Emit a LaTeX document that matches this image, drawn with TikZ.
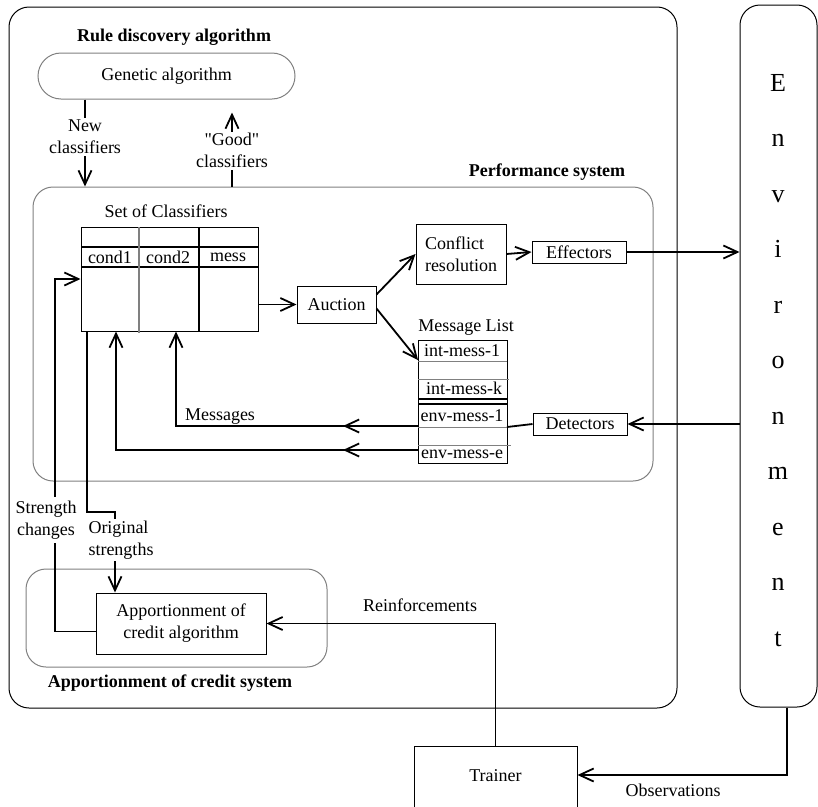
\documentclass[tikz,border=0pt]{standalone}
\usepackage{fontspec}
\setmainfont{Liberation Serif}[Ligatures=TeXOff]
\usetikzlibrary{positioning, arrows.meta, decorations.markings}

\tikzset{
  box/.style={draw, line width=1pt, inner sep=2pt},
  grpbox/.style={draw=gray, line width=1pt, rounded corners=20pt},
  conn/.style={line width=1.8pt, -{Straight Barb[length=14pt,width=13pt]}},
  plain/.style={line width=1.8pt},
  lbl/.style={fill=white, inner sep=2pt, align=center},
  hdr/.style={font=\fontsize{18}{22}\selectfont\bfseries},
  envch/.style={font=\fontsize{26}{30}\selectfont},
  midarrow/.style={postaction={decorate}, decoration={markings,
      mark=at position #1 with {\arrow{Straight Barb[length=14pt,width=13pt]}}}}
}

\begin{document}
\begin{tikzpicture}[x=1pt, y=-1pt, every node/.style={font=\fontsize{18}{22}\selectfont}]
    \useasboundingbox (0,0) rectangle (818,806);
    \clip (0,0) rectangle (818,806);

    % Outer system and environment
    \draw[line width=1pt, rounded corners=20pt] (9,7) rectangle (677,708);
    \node[draw, line width=1pt, rounded corners=20pt, minimum width=77pt, minimum height=702pt, inner sep=0] (env) at (778.5,356) {};
    \foreach \ch [count=\i from 0] in {E,n,v,i,r,o,n,m,e,n,t}
        \node[envch, anchor=base] (env\i) at (778,{91+55.5*\i}) {\ch};

    % Groups
    \node[hdr] (rdl) at (174,37) {Rule discovery algorithm};
    \node[grpbox, rounded corners=23pt, minimum width=257pt, minimum height=46pt] (gen) at (166.5,76) {Genetic algorithm};
    \node[hdr] (psl) at (547,172) {Performance system};
    \node[grpbox, minimum width=620pt, minimum height=294pt] (perf) at (343,334) {};
    \node[grpbox, minimum width=301pt, minimum height=98pt] (acs) at (176.5,618) {};
    \node[hdr] (acl) at (170,683) {Apportionment of credit system};

    % Set of classifiers
    \node (socl) at (166,211) {Set of Classifiers};
    \node[draw, line width=1pt, minimum width=177pt, minimum height=104pt, inner sep=0] (tab) at (169.5,279) {};
    \draw[line width=1.6pt] (81,247) -- (258,247);
    \draw[line width=1.6pt] (81,267) -- (258,267);
    \draw[gray, line width=1.3pt] (139,227) -- (139,333);
    \draw[line width=1.6pt] (199,227) -- (199,331);
    \node (c1) at (110,257) {cond1};
    \node (c2) at (168,257) {cond2};
    \node (c3) at (228,257) {mess};

    % Boxes
    \node[box, minimum width=79pt, minimum height=37pt] (auc) at (336.5,304.5) {Auction};
    \node[box, minimum width=90pt, minimum height=60pt, align=left] (cr) at (461,254) {Conflict\\resolution};
    \node[box, minimum width=94pt, minimum height=22pt, inner sep=1pt] (eff) at (579,252) {Effectors};
    \node[box, minimum width=94pt, minimum height=22pt, inner sep=1pt] (dt) at (580,424) {Detectors};
    \node[box, minimum width=170pt, minimum height=61pt, align=center] (apc) at (181,623.5) {Apportionment of\\credit algorithm};
    \node[box, minimum width=163pt, inner sep=0, text height=35pt, text depth=31pt, anchor=north] (tr) at (495.5,746) {Trainer};

    % Message list
    \node (mll) at (466,327) {Message List};
    \node[box, minimum width=89pt, minimum height=123pt, inner sep=0] (ml) at (462.5,401.5) {};
    \draw[gray, line width=1pt] (418,361) -- (507,361);
    \draw[gray, line width=1pt] (418,379) -- (509,379);
    \draw[line width=1.3pt] (418,399) -- (507,399);
    \draw[line width=1.3pt] (418,404) -- (507,404);
    \draw[gray, line width=1pt] (418,427) -- (507,427);
    \draw[gray, line width=1pt] (418,445) -- (511,445);
    \node (mi1) at (462,351) {int-mess-1};
    \node (mik) at (464,388) {int-mess-k};
    \node (me1) at (462,416) {env-mess-1};
    \node (mee) at (462,454) {env-mess-e};

    % Named points
    \coordinate (nc) at (85,0);
    \coordinate (gc) at (232,0);
    \coordinate (mlin) at (418,360);
    \coordinate (m1) at (418,426);
    \coordinate (m2) at (418,450);
    \coordinate (mx1) at (176,0);
    \coordinate (mx2) at (116,0);
    \coordinate (me1r) at (507,427);
    \coordinate (st) at (55,279);
    \coordinate (ox) at (87,512);
    \coordinate (ox2) at (115,512);
    \coordinate (ob) at (787,775);

    % Rule discovery
    \draw[conn] (gen.south -| nc) -- node[lbl, pos=0.43] (ncl) {New\\classifiers} (perf.north -| nc);
    \draw[conn, shorten >=13pt] (perf.north -| gc) -- node[lbl, pos=0.41] (gcl) {"Good"\\classifiers} (gen.south -| gc);

    % Performance system
    \draw[conn] (tab.east |- auc.west) -- (auc.west);
    \draw[conn] ([yshift=10pt]auc.east) -- (cr.west);
    \draw[conn] ([yshift=-4pt]auc.east) -- (mlin);
    \draw[conn] (cr.east) -- (eff.west);
    \draw[conn] (eff.east) -- (env.west |- eff.east);
    \draw[conn] (env.west |- dt.east) -- (dt.east);
    \draw[plain] (dt.west) -- (me1r);
    \draw[conn, midarrow=75pt] (m1) -| (tab.south -| mx1);
    \draw[conn, midarrow=75pt] (m2) -| (tab.south -| mx2);
    \node (msg) at (220,417) {Messages};

    % Apportionment of credit
    \draw[conn] ([yshift=-8pt]apc.west) -| (st) -- (tab.west |- st);
    \node[lbl, inner sep=4pt] (scl) at (46,520) {Strength\\changes};
    \draw[conn] (tab.south -| ox) -- (ox) -- (ox2) -- (apc.north -| ox2);
    \node[lbl, align=left] (osl) at (121,540) {Original\\strengths};
    \draw[conn] (tr.north) |- (apc.east);
    \node (rfl) at (420,605) {Reinforcements};
    \draw[conn] (env.south -| ob) |- (tr.east |- ob);
    \node (obl) at (673,790) {Observations};
\end{tikzpicture}
\end{document}
